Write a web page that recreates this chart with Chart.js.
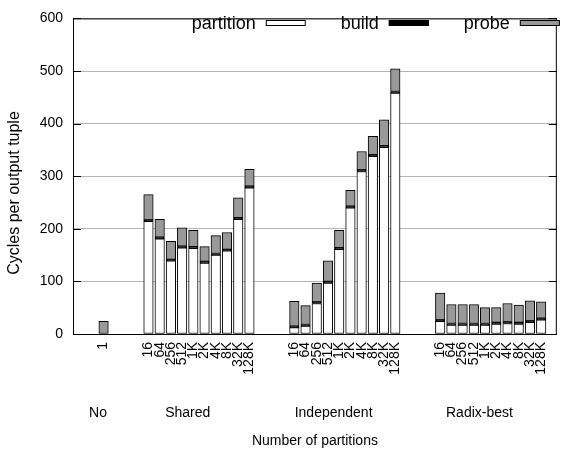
<!DOCTYPE html>
<html>
<head>
<meta charset="utf-8">
<script src="https://cdn.jsdelivr.net/npm/chart.js@4.4.0/dist/chart.umd.min.js"></script>
<style>
  html, body { margin: 0; padding: 0; background: #fff; }
</style>
</head>
<body>
<canvas id="chart" width="566" height="458"></canvas>
<script>
const groupNames = ["No", "Shared", "Independent", "Radix-best"];
const noTicks = ["1"];
const sizeTicks = ["16", "64", "256", "512", "1K", "2K", "4K", "8K", "32K", "128K"];

const partitionNo = [0];
const buildNo = [0];
const probeNo = [24];

const partitionShared = [214, 181, 139, 164, 163, 135, 150, 158, 218, 278];
const buildShared = [3, 3, 3, 3, 3, 3, 3, 3, 3, 3];
const probeShared = [48, 34, 34, 35, 31, 28, 34, 32, 38, 32];

const partitionIndependent = [12, 15, 58, 97, 161, 240, 309, 338, 355, 458];
const buildIndependent = [3, 3, 3, 3, 3, 3, 3, 3, 3, 3];
const probeIndependent = [47, 36, 36, 39, 33, 30, 35, 35, 49, 43];

const partitionRadix = [24, 17, 17, 17, 17, 19, 20, 19, 22, 27];
const buildRadix = [3, 3, 3, 3, 3, 3, 3, 3, 3, 3];
const probeRadix = [51, 36, 36, 36, 30, 28, 35, 33, 38, 31];

const yTicks = [0, 100, 200, 300, 400, 500, 600];

const groupTicks = [noTicks, sizeTicks, sizeTicks, sizeTicks];
const groupGap = 3; // empty slots between groups

// positions on the x axis, one slot per bar
const tickPos = [];
const tickText = [];
const groupLabelPos = [];
let pos = 0;
groupTicks.forEach((ticks, g) => {
  const start = pos;
  ticks.forEach(t => { tickPos.push(pos); tickText.push(t); pos++; });
  const center = (start + pos - 1) / 2;
  groupLabelPos.push(center - (ticks.length > 1 ? 1 : 0.5));
  pos += groupGap;
});

function toPoints(parts) {
  const vals = [].concat(...parts);
  return vals.map((v, i) => ({ x: tickPos[i], y: v }));
}

const FONT = "'Liberation Sans', Arial, sans-serif";

const framePlugin = {
  id: "frame",
  afterDraw(chart) {
    const { ctx, chartArea: a, scales } = chart;
    ctx.save();
    ctx.strokeStyle = "#000";
    ctx.lineWidth = 1;
    // inward ticks
    yTicks.forEach(v => {
      const y = Math.round(scales.y.getPixelForValue(v)) + 0.5;
      ctx.beginPath();
      ctx.moveTo(a.left, y); ctx.lineTo(a.left + 8, y);
      ctx.moveTo(a.right - 8, y); ctx.lineTo(a.right, y);
      ctx.stroke();
    });
    ctx.strokeRect(a.left + 0.5, a.top + 0.5, a.right - a.left - 1, a.bottom - a.top);

    // group names under the tick labels
    ctx.fillStyle = "#000";
    ctx.font = "14px " + FONT;
    ctx.textAlign = "center";
    ctx.textBaseline = "middle";
    groupNames.forEach((name, i) => {
      ctx.fillText(name, scales.x.getPixelForValue(groupLabelPos[i]), 413);
    });

    // y axis title
    ctx.save();
    ctx.translate(15, 193);
    ctx.rotate(-Math.PI / 2);
    ctx.font = "16px " + FONT;
    ctx.fillText("Cycles per output tuple", 0, 0);
    ctx.restore();

    // legend: text followed by sample box, right aligned
    ctx.font = "18px " + FONT;
    ctx.textAlign = "right";
    let x = a.right + 3;
    const ds = chart.data.datasets.slice().reverse();
    ds.forEach(d => {
      ctx.fillStyle = d.backgroundColor;
      ctx.fillRect(x - 40, 20, 40, 6);
      ctx.strokeRect(x - 39.5, 20.5, 39, 5);
      ctx.fillStyle = "#000";
      ctx.fillText(d.label, x - 50, 24);
      x = x - 50 - ctx.measureText(d.label).width - 35;
    });
    ctx.restore();
  }
};

const barStyle = {
  borderColor: "#000",
  borderWidth: 1,
  borderSkipped: false,
  barThickness: 9.5
};

new Chart(document.getElementById("chart").getContext("2d"), {
  type: "bar",
  data: {
    datasets: [
      Object.assign({ label: "partition", backgroundColor: "#ffffff",
        data: toPoints([partitionNo, partitionShared, partitionIndependent, partitionRadix]) }, barStyle),
      Object.assign({ label: "build", backgroundColor: "#000000",
        data: toPoints([buildNo, buildShared, buildIndependent, buildRadix]) }, barStyle),
      Object.assign({ label: "probe", backgroundColor: "#999999",
        data: toPoints([probeNo, probeShared, probeIndependent, probeRadix]) }, barStyle)
    ]
  },
  options: {
    responsive: false,
    animation: false,
    layout: { padding: { top: 12, right: 1, left: 0, bottom: 0 } },
    plugins: { legend: { display: false }, tooltip: { enabled: false } },
    scales: {
      x: {
        type: "linear",
        stacked: true,
        min: -2.03,
        max: 39.7,
        grid: { display: false, drawTicks: false },
        border: { display: true, color: "#000" },
        afterBuildTicks: s => { s.ticks = tickPos.map(v => ({ value: v })); },
        afterFit: s => { s.height = 124; },
        ticks: {
          autoSkip: false,
          minRotation: 90,
          maxRotation: 90,
          padding: 8,
          color: "#000",
          font: { family: FONT, size: 14 },
          callback: (v, i) => tickText[i]
        },
        title: {
          display: true,
          text: "Number of partitions",
          color: "#000",
          font: { family: FONT, size: 14 },
          padding: { top: 0, bottom: 8 }
        }
      },
      y: {
        stacked: true,
        min: 0,
        max: 600,
        afterBuildTicks: s => { s.ticks = yTicks.map(v => ({ value: v })); },
        afterFit: s => { s.width = 73; },
        grid: { color: "#b4b4b4", drawTicks: false },
        border: { color: "#000" },
        ticks: {
          padding: 10,
          color: "#000",
          font: { family: FONT, size: 14 }
        }
      }
    }
  },
  plugins: [framePlugin]
});
</script>
</body>
</html>
